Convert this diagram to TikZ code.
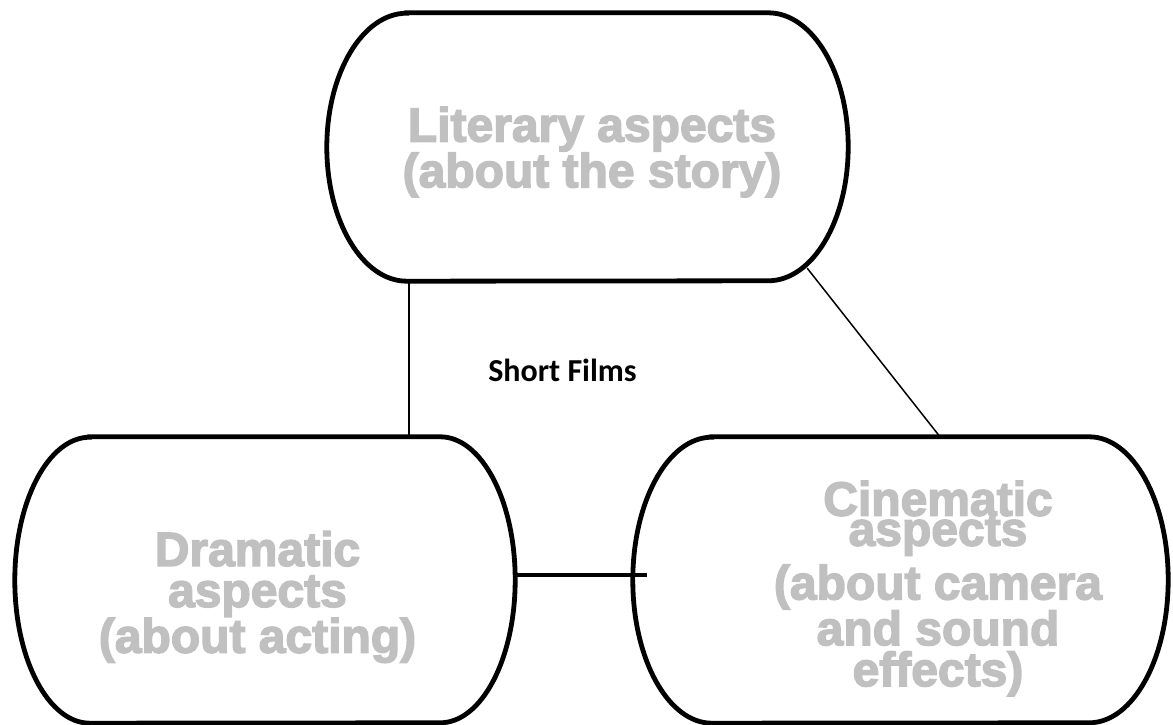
\documentclass[tikz,border=0pt]{standalone}
\usepackage{fontspec}
\newfontfamily\aspectfont{Liberation Sans}[BoldFeatures={FakeBold=3}]
\newfontfamily\titlefont{Carlito}
\definecolor{aspectgray}{HTML}{C0C0C0}

% flat top and bottom, half-ellipse sides
\newcommand{\aspectoutline}[3]{%
  \draw[outline] ([xshift=#2]#1.north west) -- ([xshift=-#2]#1.north east)
    arc[start angle=90, end angle=-90, x radius=#2, y radius=#3]
    -- ([xshift=#2]#1.south west)
    arc[start angle=270, end angle=90, x radius=#2, y radius=#3] -- cycle;}

\tikzset{
  aspectbox/.style={inner sep=0pt},
  outline/.style={line width=4.8pt},
  aspecttext/.style={text=aspectgray, align=center, inner sep=0pt,
    font=\aspectfont\bfseries\fontsize{48}{41}\selectfont},
  titletext/.style={inner sep=0pt, font=\titlefont\bfseries\fontsize{32}{38}\selectfont},
  link/.style={line width=1.5pt},
  heavylink/.style={line width=3.3pt}
}

\begin{document}
\begin{tikzpicture}[x=1pt, y=1pt]
        \path[fill=white, use as bounding box] (0,0) rectangle (1173,724);
        \node[aspectbox, minimum width=521pt, minimum height=268pt] (lit) at (587.5,577) {};
        \node[aspectbox, minimum width=500pt, minimum height=286pt] (dram) at (265,144) {};
        \node[aspectbox, minimum width=535pt, minimum height=286pt] (cine) at (900.5,144) {};
        \aspectoutline{lit}{80pt}{134pt}
        \aspectoutline{dram}{75pt}{143pt}
        \aspectoutline{cine}{79pt}{143pt}
        \node[aspecttext] (littext) at (592,572) {Literary aspects\\(about the story)};
        \node[aspecttext] (dramtext) at (257.5,127) {Dramatic\\aspects\\(about acting)};
        \node[aspecttext] (cinetext) at (938,135.5) {Cinematic\\[-11pt]aspects\\[8pt](about camera\\and sound\\effects)};
        \node[titletext, anchor=base] (title) at (562.5,342) {Short Films};
        \draw[link] ([xshift=82pt]lit.south west) -- ([xshift=82pt]lit.south west |- dram.north);
        \draw[link] ([shift={(-41pt,13pt)}]lit.south east) -- ([xshift=39.5pt]cine.north);
        \draw[heavylink] ([yshift=5pt]dram.east) -- ([xshift=14pt,yshift=5pt]cine.west);
\end{tikzpicture}
\end{document}
